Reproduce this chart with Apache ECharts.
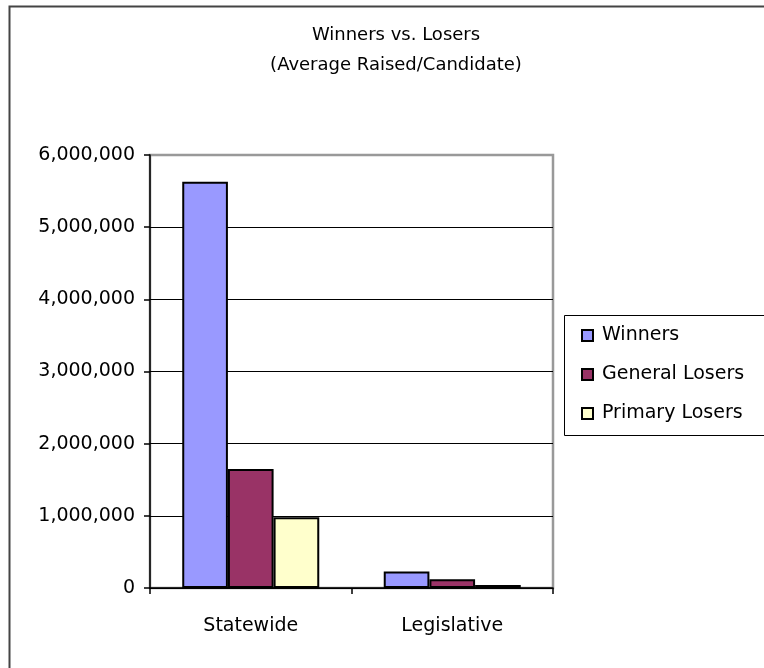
<!DOCTYPE html>
<html>
<head>
<meta charset="utf-8">
<script src="https://cdn.jsdelivr.net/npm/echarts@6/dist/echarts.min.js"></script>
<style>
  html, body { margin: 0; padding: 0; background: #fff; }
  #chart { width: 764px; height: 668px; }
</style>
</head>
<body>
<div id="chart"></div>
<script>
// categories and series
const categories = ['Statewide', 'Legislative']
const winners = [5630000, 230000]
const generalLosers = [1650000, 120000]
const primaryLosers = [980000, 40000]
const yTicks = [0, 1000000, 2000000, 3000000, 4000000, 5000000, 6000000]

const font = 'DejaVu Sans'

let myChart = echarts.init(document.getElementById('chart'))

const barStyle = (color) => ({ color: color, borderColor: '#000', borderWidth: 2 })

let option = {
  animation: false,
  backgroundColor: '#fff',
  title: {
    text: 'Winners vs. Losers\n(Average Raised/Candidate)',
    left: 391,
    top: 15,
    textAlign: 'center',
    textStyle: { fontFamily: font, fontSize: 18, fontWeight: 'normal', color: '#000', lineHeight: 30 },
  },
  legend: {
    orient: 'vertical',
    left: 576,
    top: 321,
    itemGap: 20,
    itemWidth: 11,
    itemHeight: 11,
    icon: 'rect',
    textStyle: { fontFamily: font, fontSize: 19, color: '#000', padding: [0, 0, 0, 4] },
    data: ['Winners', 'General Losers', 'Primary Losers'],
  },
  grid: {
    left: 150,
    top: 155,
    right: 211,
    bottom: 80,
    show: true,
    borderColor: '#999',
    borderWidth: 2.5,
    containLabel: false,
  },
  xAxis: {
    type: 'category',
    data: categories,
    axisLine: { lineStyle: { color: '#000', width: 1.5 } },
    axisTick: { show: true, length: 6, lineStyle: { color: '#000', width: 1.5 } },
    axisLabel: { fontFamily: font, fontSize: 19, color: '#000', margin: 29 },
  },
  yAxis: {
    type: 'value',
    min: yTicks[0],
    max: yTicks[yTicks.length - 1],
    interval: 1000000,
    axisLine: { show: true, lineStyle: { color: '#000', width: 1.5 } },
    axisTick: { show: true, length: 6, lineStyle: { color: '#000', width: 1.5 } },
    splitLine: { showMaxLine: false, lineStyle: { color: '#000', width: 1 } },
    axisLabel: {
      fontFamily: font,
      fontSize: 19,
      color: '#000',
      margin: 15,
      formatter: (v) => v.toLocaleString('en-US'),
    },
  },
  series: [
    { name: 'Winners', type: 'bar', data: winners, barGap: '0%', barCategoryGap: '32%', itemStyle: barStyle('#9999FF') },
    { name: 'General Losers', type: 'bar', data: generalLosers, itemStyle: barStyle('#993366') },
    { name: 'Primary Losers', type: 'bar', data: primaryLosers, itemStyle: barStyle('#FFFFCC') },
  ],
  graphic: [
    // outer chart frame
    { type: 'rect', left: 7, top: 4, z: -1, shape: { width: 800, height: 700 }, style: { fill: 'none', stroke: '#444', lineWidth: 2 } },
    // legend box
    { type: 'rect', left: 562, top: 313, z: -1, shape: { width: 220, height: 120 }, style: { fill: 'none', stroke: '#000', lineWidth: 1 } },
  ],
}
myChart.setOption(option)
</script>
</body>
</html>
